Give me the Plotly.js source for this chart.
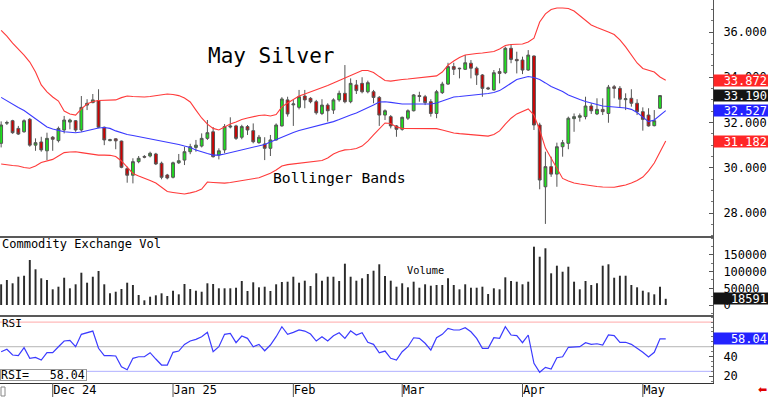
<!DOCTYPE html>
<html><head><meta charset="utf-8">
<script src="https://cdn.plot.ly/plotly-3.0.1.min.js"></script>
<style>html,body{margin:0;padding:0;background:#fff}#chart{width:768px;height:397px}</style>
</head><body><div id="chart"></div><script>
// ---- data ----
const dates = [
 '2024-11-18','2024-11-19','2024-11-20','2024-11-21','2024-11-22','2024-11-25','2024-11-26','2024-11-27','2024-11-29',
 '2024-12-02','2024-12-03','2024-12-04','2024-12-05','2024-12-06','2024-12-09','2024-12-10','2024-12-11','2024-12-12','2024-12-13',
 '2024-12-16','2024-12-17','2024-12-18','2024-12-19','2024-12-20','2024-12-23','2024-12-24','2024-12-26','2024-12-27','2024-12-30','2024-12-31',
 '2025-01-02','2025-01-03','2025-01-06','2025-01-07','2025-01-08','2025-01-09','2025-01-10','2025-01-13','2025-01-14','2025-01-15',
 '2025-01-16','2025-01-17','2025-01-21','2025-01-22','2025-01-23','2025-01-24','2025-01-27','2025-01-28','2025-01-29','2025-01-30','2025-01-31',
 '2025-02-03','2025-02-04','2025-02-05','2025-02-06','2025-02-07','2025-02-10','2025-02-11','2025-02-12','2025-02-13','2025-02-14',
 '2025-02-18','2025-02-19','2025-02-20','2025-02-21','2025-02-24','2025-02-25','2025-02-26','2025-02-27','2025-02-28',
 '2025-03-03','2025-03-04','2025-03-05','2025-03-06','2025-03-07','2025-03-10','2025-03-11','2025-03-12','2025-03-13','2025-03-14',
 '2025-03-17','2025-03-18','2025-03-19','2025-03-20','2025-03-21','2025-03-24','2025-03-25','2025-03-26','2025-03-27','2025-03-28','2025-03-31',
 '2025-04-01','2025-04-02','2025-04-03','2025-04-04','2025-04-07','2025-04-08','2025-04-09','2025-04-10','2025-04-11','2025-04-14',
 '2025-04-15','2025-04-16','2025-04-17','2025-04-21','2025-04-22','2025-04-23','2025-04-24','2025-04-25','2025-04-28','2025-04-29','2025-04-30',
 '2025-05-01','2025-05-02','2025-05-05','2025-05-06','2025-05-07'
];
const open = [31.08,31.97,32.08,31.74,31.59,32.14,31.0,31.14,30.75,31.35,
 31.2,31.67,32.02,32.08,31.67,32.77,32.88,32.97,31.79,31.2,
 31.28,31.18,29.96,29.67,30.27,30.5,30.52,30.61,30.2,29.68,
 29.58,30.22,30.34,30.71,30.9,30.96,31.3,31.59,30.56,30.79,
 31.8,31.85,31.35,31.82,31.64,31.11,31.05,30.86,31.23,31.85,
 33.0,32.78,32.67,33.17,33.07,32.92,32.4,32.77,32.55,33.0,
 33.29,32.92,33.66,33.73,33.36,33.36,33.11,32.33,32.26,31.85,
 31.7,32.19,32.52,33.19,33.14,32.92,32.4,33.32,33.7,34.47,
 34.4,34.35,34.62,34.4,34.1,33.53,33.44,34.25,34.2,35.28,
 34.79,34.76,34.32,34.94,31.89,29.16,30.05,29.72,30.93,31.08,
 32.17,32.23,32.26,32.73,32.38,32.58,32.4,33.58,33.51,33.01,
 33.07,32.85,32.48,32.33,31.86,32.63];
const high = [32.05,32.08,32.12,31.85,32.14,32.2,31.3,31.37,31.55,31.4,
 31.82,32.29,32.17,32.11,33.17,33.03,33.26,33.47,31.82,31.28,
 31.3,31.2,30.05,30.42,30.52,30.56,30.71,30.66,30.27,29.73,
 30.27,30.61,30.93,31.06,31.23,31.52,32.11,31.8,30.86,31.93,
 32.23,31.9,31.9,31.89,31.96,31.45,31.35,31.45,31.96,33.12,
 33.14,33.0,33.44,33.44,33.12,33.0,33.03,32.85,33.07,33.41,
 34.54,33.95,33.88,34.0,33.85,33.44,33.17,32.58,32.33,31.89,
 32.26,32.58,33.26,33.36,33.22,33.03,33.44,33.8,34.64,34.64,
 34.42,34.98,34.76,34.47,34.14,33.58,34.32,34.4,35.35,35.47,
 35.13,34.91,35.2,34.96,31.99,30.71,30.49,31.11,31.23,32.26,
 32.4,32.4,33.14,32.85,33.07,33.07,33.66,33.66,33.61,33.29,
 33.47,33.03,32.67,32.63,32.55,33.2];
const low = [30.9,31.89,31.5,31.45,31.55,30.93,30.75,30.71,30.34,30.75,
 31.12,31.52,31.7,31.59,31.59,32.55,32.85,31.75,31.0,31.17,
 30.82,29.98,29.34,29.31,30.2,30.42,30.46,30.12,29.49,29.49,
 29.53,30.17,30.12,30.6,30.71,30.9,31.23,30.45,30.37,30.64,
 31.74,31.23,31.26,31.45,31.08,31.06,30.34,30.52,31.2,31.82,
 32.26,31.85,32.58,32.63,32.85,32.35,32.33,32.04,32.38,32.92,
 32.85,32.85,33.26,33.29,33.29,32.85,31.85,32.11,31.74,31.37,
 31.64,32.11,32.49,32.92,32.77,32.26,32.19,33.26,33.66,34.1,
 33.95,34.32,33.95,33.66,33.14,33.44,33.41,33.73,34.14,34.62,
 34.17,34.14,34.28,31.67,29.05,27.52,29.6,29.16,30.49,30.82,
 31.59,32.04,32.14,32.38,32.33,32.33,31.99,33.07,32.67,32.55,
 32.7,32.33,31.64,31.82,31.83,32.6];
const close = [31.89,32.0,31.55,31.49,32.08,31.0,31.11,30.79,31.3,31.26,
 31.74,32.11,32.11,31.67,32.67,32.85,33.0,31.79,31.23,31.24,
 31.19,30.02,29.67,30.27,30.42,30.47,30.64,30.17,29.58,29.55,
 30.22,30.31,30.71,30.93,31.0,31.3,31.55,30.49,30.75,31.82,
 31.84,31.3,31.82,31.67,31.15,31.35,30.86,31.23,31.89,33.04,
 32.38,32.82,33.14,33.0,32.92,32.43,32.77,32.52,33.0,33.29,
 32.92,33.73,33.41,33.36,33.76,33.11,32.33,32.52,31.85,31.7,
 32.23,32.52,33.22,33.15,32.88,32.4,33.36,33.7,34.47,34.35,
 34.38,34.64,34.4,34.1,33.51,33.49,34.2,34.17,35.28,34.79,
 34.73,34.32,34.98,31.89,29.46,30.05,29.72,30.93,31.11,32.19,
 32.26,32.3,32.73,32.52,32.58,32.48,33.56,33.51,33.03,33.05,
 32.85,32.48,32.14,31.85,32.08,33.19];
const bbUpper = [36.07,35.82,35.51,35.25,34.98,34.67,34.23,33.66,33.35,33.13,
 32.95,32.51,32.38,32.33,32.6,32.82,32.93,32.97,32.97,32.97,
 33.0,33.1,33.17,33.15,33.13,33.13,33.15,33.19,33.24,33.26,
 33.24,33.19,33.08,32.91,32.55,32.2,31.93,31.74,31.67,31.8,
 31.93,32.02,32.13,32.2,32.27,32.31,32.33,32.29,32.35,32.69,
 32.86,33.02,33.17,33.26,33.35,33.44,33.53,33.64,33.75,33.86,
 33.97,34.08,34.21,34.3,34.3,34.21,34.03,33.86,33.83,33.88,
 33.9,33.92,33.95,33.97,33.99,34.01,34.06,34.23,34.54,34.72,
 34.87,34.98,35.03,35.05,35.07,35.12,35.14,35.25,35.4,35.45,
 35.45,35.47,35.56,35.73,36.44,36.8,36.99,37.06,37.06,37.04,
 36.93,36.71,36.49,36.31,36.2,36.11,36.0,35.89,35.65,35.34,
 34.98,34.63,34.39,34.32,34.23,34.01,33.872];
const bbMiddle = [33.11,32.95,32.8,32.66,32.53,32.35,32.16,31.96,31.8,31.71,
 31.65,31.59,31.57,31.55,31.58,31.65,31.71,31.76,31.78,31.74,
 31.63,31.54,31.47,31.43,31.38,31.34,31.29,31.25,31.21,31.15,
 31.09,31.03,30.96,30.9,30.79,30.7,30.63,30.56,30.56,30.61,
 30.67,30.74,30.81,30.87,30.92,30.96,31.03,31.14,31.25,31.36,
 31.45,31.56,31.65,31.71,31.78,31.85,31.89,31.96,32.04,32.13,
 32.24,32.33,32.42,32.53,32.64,32.77,32.91,32.92,32.89,32.84,
 32.82,32.82,32.82,32.82,32.82,32.82,32.86,32.95,33.06,33.13,
 33.15,33.17,33.19,33.22,33.26,33.28,33.33,33.41,33.57,33.75,
 33.9,33.97,34.03,33.99,33.9,33.75,33.59,33.48,33.37,33.22,
 33.11,33.02,32.93,32.86,32.8,32.73,32.71,32.69,32.67,32.64,
 32.58,32.44,32.24,32.04,32.11,32.33,32.527];
const bbLower = [30.17,30.12,30.1,30.08,30.01,29.98,30.08,30.23,30.3,30.37,
 30.52,30.67,30.7,30.71,30.67,30.63,30.59,30.56,30.56,30.55,
 30.5,30.3,30.03,29.75,29.64,29.55,29.44,29.33,29.15,28.95,
 28.91,28.86,28.84,28.89,28.95,29.06,29.37,29.35,29.33,29.32,
 29.35,29.39,29.44,29.49,29.54,29.56,29.66,29.76,29.9,30.08,
 30.14,30.17,30.2,30.22,30.26,30.29,30.32,30.43,30.61,30.72,
 30.79,30.81,30.85,30.96,31.18,31.45,31.71,31.98,31.96,31.8,
 31.74,31.74,31.74,31.74,31.74,31.74,31.73,31.67,31.6,31.54,
 31.51,31.49,31.47,31.45,31.43,31.4,31.47,31.63,31.93,32.19,
 32.38,32.49,32.6,32.33,31.67,30.87,30.43,29.99,29.53,29.42,
 29.33,29.28,29.24,29.19,29.17,29.15,29.14,29.14,29.19,29.24,
 29.33,29.44,29.59,29.86,30.21,30.7,31.182];
const volume = [62000,74900,65000,84700,87700,134700,106900,79900,74900,47000,
 54800,81700,50000,62000,96700,66800,84700,101800,62000,35000,
 39800,47900,66800,59900,29900,14000,24900,29000,35000,26900,
 42800,32000,62900,47900,42800,39800,65000,62900,50000,50000,
 50000,51800,71900,41900,68000,53000,54800,41900,62000,68900,
 69800,84700,66800,72800,56900,94900,72800,84700,84700,71900,
 123700,84700,72800,79900,92800,102700,121900,
 86800,72800,54800,65000,53000,69800,51800,62000,57800,59900,
 59900,79900,59900,47000,62000,51800,51800,54800,32900,50000,
 47000,82900,71900,69800,62000,69800,174600,144600,169800,94900,
 117700,99700,114700,69800,47000,71900,59900,65000,117700,121900,
 81700,87700,87700,59900,53000,42800,38000,32000,54800,18591];
const rsi = [44.9,47.4,41.6,40.9,49,38.2,39.2,36.5,43.9,43.9,
 50,55.8,56.5,50,62.6,64.6,65.9,48.4,40.9,40.9,
 40.6,29.7,26.6,38.2,39.8,39.8,43.9,37.5,31.4,31.4,
 44.3,45.6,52.4,55.8,57.5,60.2,64.6,44.9,50,62.6,
 63.6,54.1,60.9,58.5,50,52.4,45.9,51.7,60.2,70.3,
 62.6,64.6,67,65.9,62.9,55.8,60.2,55.8,61.2,64.2,
 58.5,66.2,61.9,64.2,54.5,52.4,43.9,45.6,38.2,36.5,
 44.9,50,59.1,58.5,53.5,46.6,59.1,62.6,68.7,67,
 67,69.3,65.2,58.5,48.4,48.4,59.1,58.5,70.3,61.9,
 61.2,54.1,61.9,33.1,24,29.1,27.4,38.8,39.8,49.4,
 49.7,50,54.1,52.4,53,51.7,61.9,61.2,54.5,54.5,
 52.4,48.4,44.3,39.5,44.3,58.04,58.04];
const monthTickDates = ['2024-12-02','2025-01-02','2025-02-03','2025-03-03','2025-04-01','2025-05-01'];
const monthTickLabels = ['Dec 24','Jan 25','Feb','Mar','Apr','May'];
const priceTicks = [28,30,32,34,36];
const volumeTicks = [0,50000,100000,150000];
const rsiTicks = [20,40];
const rsiLevels = [75,50,25];
const rsiLevelColors = ['#ffa8a8','#b4b4b4','#b0b0ff'];

// ---- chart ----
const MONO = 'DejaVu Sans Mono';
const candleDates = dates.slice(0, open.length);
const last = a => a[a.length-1];

const traces = [
  {type:'scatter', mode:'lines', x:dates, y:bbUpper, xaxis:'x', yaxis:'y', line:{color:'#ff3a3a', width:1.1}, hoverinfo:'skip'},
  {type:'scatter', mode:'lines', x:dates, y:bbLower, xaxis:'x', yaxis:'y', line:{color:'#ff3a3a', width:1.1}, hoverinfo:'skip'},
  {type:'scatter', mode:'lines', x:dates, y:bbMiddle, xaxis:'x', yaxis:'y', line:{color:'#3a3aff', width:1.1}, hoverinfo:'skip'},
  {type:'candlestick', x:candleDates, open:open, high:high, low:low, close:close, xaxis:'x', yaxis:'y',
   whiskerwidth:0,
   increasing:{line:{color:'#555555', width:1}, fillcolor:'#1ee01e'},
   decreasing:{line:{color:'#555555', width:1}, fillcolor:'#d00000'}},
  {type:'bar', x:dates, y:volume, xaxis:'x', yaxis:'y2', width:0.34, marker:{color:'#2b2b2b', line:{width:0}}},
  {type:'scatter', mode:'lines', x:dates, y:rsi, xaxis:'x', yaxis:'y3', line:{color:'#3b3bff', width:1.2}}
];

const H = 383; // plot-area height in px
const py = px => (H - px) / H;

const shapes = [];
monthTickDates.forEach(d => {
  const i = dates.indexOf(d);
  shapes.push({type:'line', xref:'x', yref:'paper', x0:i, x1:i, y0:0, y1:-14/H, line:{color:'#555', width:1}});
});
shapes.push({type:'line', xref:'paper', yref:'paper', x0:0, x1:1, y0:py(237), y1:py(237), line:{color:'#222', width:1.5}});
shapes.push({type:'line', xref:'paper', yref:'paper', x0:0, x1:1, y0:py(316), y1:py(316), line:{color:'#222', width:1.5}});
rsiLevels.forEach((v, k) => shapes.push({type:'line', xref:'paper', yref:'y3', x0:0, x1:1, y0:v, y1:v, layer:'below', line:{color:rsiLevelColors[k], width:1}}));
shapes.push({type:'rect', xref:'paper', yref:'paper', x0:1/713, x1:5/713, y0:py(396), y1:py(387), line:{color:'#888', width:1}});

const boxLabel = (text, yref, y, bg) => ({
  text:text, xref:'paper', x:1, xanchor:'left', yref:yref, y:y, yanchor:'middle',
  showarrow:false, width:52, height:9, borderpad:1, align:'right', bgcolor:bg,
  font:{family:MONO, size:12, color:'#fff'}
});

const annotations = [
  {text:'May Silver', xref:'paper', yref:'paper', x:206/713, y:py(55.5), xanchor:'left', yanchor:'middle', showarrow:false, font:{family:MONO, size:21, color:'#000'}},
  {text:'Bollinger Bands', xref:'paper', yref:'paper', x:271/713, y:py(177.7), xanchor:'left', yanchor:'middle', showarrow:false, font:{family:MONO, size:14.7, color:'#000'}},
  {text:'Commodity Exchange Vol', xref:'paper', yref:'paper', x:0, y:py(244.3), xanchor:'left', yanchor:'middle', showarrow:false, font:{family:MONO, size:12, color:'#000'}},
  {text:'Volume', xref:'paper', yref:'paper', x:405/713, y:py(270.3), xanchor:'left', yanchor:'middle', showarrow:false, font:{family:MONO, size:10.3, color:'#000'}},
  {text:'RSI', xref:'paper', yref:'paper', x:0, y:py(323), xanchor:'left', yanchor:'middle', showarrow:false, font:{family:MONO, size:11, color:'#000'}},
  {text:'RSI=\u00a0\u00a0\u00a0' + last(rsi).toFixed(2), xref:'paper', yref:'paper', x:0, y:py(375.2), xanchor:'left', yanchor:'middle',
   showarrow:false, width:85, height:10, borderpad:0, align:'left', bgcolor:'#fff', bordercolor:'#999', borderwidth:1,
   font:{family:MONO, size:11.6, color:'#000'}},
  boxLabel(last(bbUpper).toFixed(3), 'y', last(bbUpper), '#ff2626'),
  boxLabel(last(close).toFixed(3), 'y', last(close), '#141414'),
  boxLabel(last(bbMiddle).toFixed(3), 'y', last(bbMiddle), '#2323ff'),
  boxLabel(last(bbLower).toFixed(3), 'y', last(bbLower), '#ff2626'),
  boxLabel(String(last(volume)), 'y2', last(volume), '#141414'),
  boxLabel(last(rsi).toFixed(2), 'y3', last(rsi), '#2323ff'),
  {text:'\u2b05', xref:'paper', yref:'paper', x:762/713, y:py(389), xanchor:'center', yanchor:'middle', showarrow:false, font:{family:'DejaVu Sans', size:11, color:'#e00000'}}
];

const yBase = {
  side:'right', showgrid:false, zeroline:false, showline:true, linecolor:'#555', linewidth:1,
  ticks:'inside', ticklen:4, tickcolor:'#555', tickwidth:1, ticklabelstandoff:7,
  tickfont:{family:MONO, size:12, color:'#000'}, fixedrange:true, tickmode:'array'
};

const layout = {
  width:768, height:397, margin:{l:0, r:55, t:0, b:14, pad:0},
  paper_bgcolor:'#fff', plot_bgcolor:'#fff', showlegend:false,
  font:{family:MONO, size:12, color:'#000'},
  xaxis:{type:'category', categoryorder:'array', categoryarray:dates, range:[-0.2, 124.25], anchor:'y3',
    tickmode:'array', tickvals:monthTickDates, ticktext:monthTickLabels, ticks:'', ticklabelposition:'outside right',
    ticklabelstandoff:-4,
    tickfont:{family:MONO, size:12, color:'#000'}, showgrid:false, zeroline:false, showline:true, linecolor:'#333', linewidth:1,
    rangeslider:{visible:false}, fixedrange:true},
  yaxis:Object.assign({}, yBase, {domain:[py(237), 1], range:[26.941, 37.414], tickvals:priceTicks, tickformat:'.3f',
    minor:{ticks:'inside', ticklen:2, tickcolor:'#777', dtick:0.5}}),
  yaxis2:Object.assign({}, yBase, {domain:[py(316), py(237)], range:[-32900, 203600], tickvals:volumeTicks, tickformat:'d',
    minor:{ticks:'inside', ticklen:2, tickcolor:'#777', dtick:25000}}),
  yaxis3:Object.assign({}, yBase, {domain:[0, py(316)], range:[13.15, 81.2], tickvals:rsiTicks,
    minor:{ticks:'inside', ticklen:2, tickcolor:'#777', dtick:5}}),
  shapes:shapes, annotations:annotations
};

Plotly.newPlot('chart', traces, layout, {staticPlot:true, displayModeBar:false});
</script></body></html>
